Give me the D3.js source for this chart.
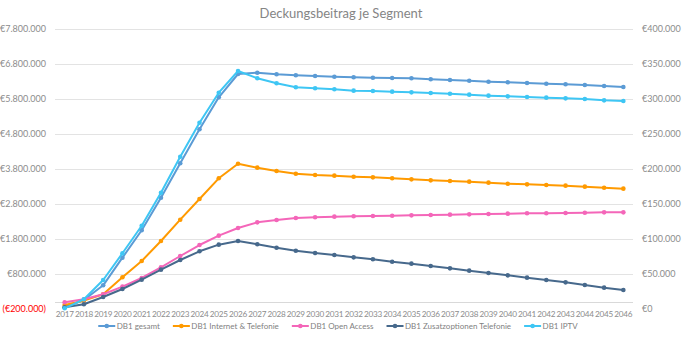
<!DOCTYPE html>
<html><head><meta charset="utf-8">
<script src="https://cdn.jsdelivr.net/npm/d3@7"></script>
<style>body{margin:0;background:#fff;}svg{display:block;font-family:Lato,"Open Sans",sans-serif;}</style>
</head><body><svg id="c" width="683" height="339"></svg>
<script>
const years = d3.range(2017, 2047).map(String);
// primary axis (left), values in €
const gesamt = [-150000,57000,477000,1266000,2049000,2980000,3963000,4934000,5849000,6514000,6551000,6506000,6477000,6457000,6437000,6420000,6409000,6400000,6391000,6363000,6343000,6323000,6294000,6277000,6257000,6237000,6220000,6200000,6171000,6143000];
// secondary axis (right), values in €
const internet = [5700,11900,21000,45300,68600,97100,127600,157100,186700,207600,201900,197100,193300,191400,190500,189000,188100,186700,185200,183800,182900,181900,180500,179000,178100,177100,176200,174800,173300,171900];
const openAccess = [9600,13900,21000,31900,44300,59600,75700,91400,104800,115700,123800,127100,130000,131000,131900,132400,132900,133300,133800,134300,134800,135200,135700,136200,136700,136700,137100,137600,138100,138100];
const zusatz = [2400,6700,17100,28600,41900,56200,70000,82400,91900,97100,92400,87600,83300,80000,77100,73800,71000,67600,64800,61400,58100,54800,51400,48100,44800,41400,38100,34300,30500,27100];
const iptv = [1000,13900,41400,79600,119000,166100,217600,266100,309000,340000,329600,322400,316700,315300,313900,311900,311400,310500,309500,308600,307600,306200,304800,303800,302900,301900,300900,300000,298100,297100];
const leftTicks = [-200000,800000,1800000,2800000,3800000,4800000,5800000,6800000,7800000];
const rightTicks = [0,50000,100000,150000,200000,250000,300000,350000,400000];
const seriesNames = ["DB1 gesamt","DB1 Internet & Telefonie","DB1 Open Access","DB1 Zusatzoptionen Telefonie","DB1 IPTV"];
const seriesColors = ["#5B9BD5","#FF9A00","#F466B9","#47698C","#3EC6F4"];
const seriesData = [gesamt, internet, openAccess, zusatz, iptv];
const seriesAxis = ["left","right","right","right","right"];

const svg = d3.select("#c");
const L = 55, R = 633, T = 29, B = 309;
const x = d3.scaleBand().domain(years).range([L, R]);
const yL = d3.scaleLinear().domain([-200000, 7800000]).range([B, T]);
const yR = d3.scaleLinear().domain([0, 400000]).range([B, T]);
const fmt = v => {
  const s = "€" + d3.format(",")(Math.abs(v)).replace(/,/g, ".");
  return v < 0 ? "(" + s + ")" : s;
};

// title
svg.append("text").attr("x", 341).attr("y", 18).attr("text-anchor", "middle")
  .attr("fill", "#858585").style("font-size", "13px").text("Deckungsbeitrag je Segment");

// gridlines
svg.append("g").selectAll("line").data(leftTicks.filter(v => v > -200000)).join("line")
  .attr("x1", L).attr("x2", R).attr("y1", d => Math.round(yL(d)) + 0.5).attr("y2", d => Math.round(yL(d)) + 0.5)
  .attr("stroke", "#E3E3E3").attr("stroke-width", 1);
// horizontal axis line at primary 0
svg.append("line").attr("x1", L).attr("x2", R)
  .attr("y1", Math.round(yL(0)) + 0.5).attr("y2", Math.round(yL(0)) + 0.5)
  .attr("stroke", "#D9D9D9").attr("stroke-width", 1);

// left axis
const gl = svg.append("g").attr("transform", `translate(${L - 9},0)`)
  .call(d3.axisLeft(yL).tickValues(leftTicks).tickFormat(fmt).tickSize(0).tickPadding(0));
gl.select(".domain").remove();
gl.selectAll("text").attr("fill", d => d < 0 ? "#FF0000" : "#8C8C8C").style("font-size", "9px").style("font-family", "Lato,sans-serif");

// right axis
const gr = svg.append("g").attr("transform", `translate(${R + 9},0)`)
  .call(d3.axisRight(yR).tickValues(rightTicks).tickFormat(fmt).tickSize(0).tickPadding(0));
gr.select(".domain").remove();
gr.selectAll("text").attr("fill", "#8C8C8C").style("font-size", "9px").style("font-family", "Lato,sans-serif");

// bottom axis labels
const gx = svg.append("g").attr("transform", `translate(0,${B - 3})`)
  .call(d3.axisBottom(x).tickSize(0).tickPadding(5));
gx.select(".domain").remove();
gx.selectAll("text").attr("fill", "#8C8C8C").style("font-size", "8.2px")
  .style("letter-spacing", "-0.25px").style("font-family", "Lato,sans-serif");

// series
seriesData.forEach((data, i) => {
  const ys = seriesAxis[i] === "left" ? yL : yR;
  const pts = data.map((v, j) => [x(years[j]) + x.bandwidth() / 2, ys(v)]);
  svg.append("path").attr("d", d3.line()(pts)).attr("fill", "none")
    .attr("stroke", seriesColors[i]).attr("stroke-width", 2).attr("stroke-linejoin", "round");
  svg.append("g").selectAll("circle").data(pts).join("circle")
    .attr("cx", d => d[0]).attr("cy", d => d[1]).attr("r", 2.3).attr("fill", seriesColors[i]);
});

// legend
const lg = svg.append("g");
const items = [];
seriesNames.forEach((n, i) => {
  const g = lg.append("g");
  g.append("line").attr("x1", 0).attr("x2", 17).attr("y1", 0).attr("y2", 0)
    .attr("stroke", seriesColors[i]).attr("stroke-width", 2);
  g.append("circle").attr("cx", 8.5).attr("cy", 0).attr("r", 2.3).attr("fill", seriesColors[i]);
  const t = g.append("text").attr("x", 18.5).attr("y", 3).attr("fill", "#7F7F7F")
    .style("font-size", "8px").text(n);
  const w = 18.5 + t.node().getComputedTextLength();
  items.push({g, w});
});
const gap = 13;
const total = d3.sum(items, d => d.w) + gap * (items.length - 1);
let start = 338 - total / 2;
items.forEach(d => { d.g.attr("transform", `translate(${start},326)`); start += d.w + gap; });
</script></body></html>
